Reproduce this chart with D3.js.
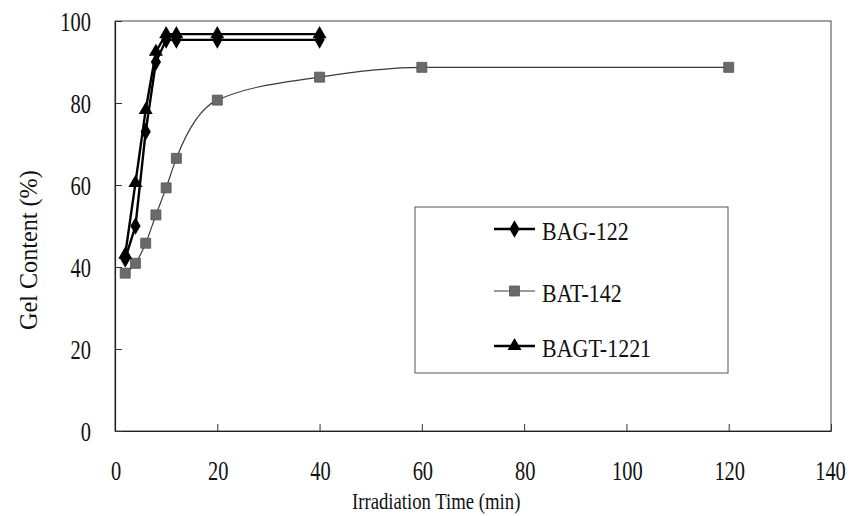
<!DOCTYPE html>
<html>
<head>
<meta charset="utf-8">
<script src="https://cdn.jsdelivr.net/npm/d3@7"></script>
<style>
  html, body { margin: 0; padding: 0; background: #fff; }
  svg { display: block; }
  text { font-family: "Liberation Serif", "DejaVu Serif", serif; fill: #111; }
</style>
</head>
<body>
<div id="chart"></div>
<script>
// values
const timeBAG = [2, 4, 6, 8, 10, 12, 20, 40];
const gelBAG122 = [42, 50, 73, 90, 95.4, 95.4, 95.4, 95.4];
const gelBAGT1221 = [43, 60.5, 78.3, 92.5, 96.8, 96.8, 96.8, 96.8];
const timeBAT = [2, 4, 6, 8, 10, 12, 20, 40, 60, 120];
const gelBAT142 = [38.5, 40.9, 45.8, 52.7, 59.3, 66.5, 80.7, 86.3, 88.7, 88.7];

const xTicks = [0, 20, 40, 60, 80, 100, 120, 140];
const yTicks = [0, 20, 40, 60, 80, 100];
const seriesNames = ['BAG-122', 'BAT-142', 'BAGT-1221'];

const W = 849, H = 516;
const plot = { left: 115, right: 831, top: 21, bottom: 431 };
const NARROW = 0.73; // the original face is a condensed serif

const svg = d3.select('#chart').append('svg')
    .attr('width', W).attr('height', H);

const x = d3.scaleLinear().domain([0, 140]).range([plot.left, plot.right]);
const y = d3.scaleLinear().domain([0, 100]).range([plot.bottom, plot.top]);

// frame
svg.append('rect')
    .attr('x', plot.left).attr('y', plot.top)
    .attr('width', plot.right - plot.left).attr('height', plot.bottom - plot.top)
    .attr('fill', 'none').attr('stroke', '#444').attr('stroke-width', 1);

// axes, ticks pointing inward; labels drawn below with a narrowed face
const xAxis = svg.append('g').attr('transform', `translate(0,${plot.bottom})`)
    .call(d3.axisBottom(x).tickValues(xTicks).tickSizeInner(-7).tickSizeOuter(0).tickFormat(''));
const yAxis = svg.append('g').attr('transform', `translate(${plot.left},0)`)
    .call(d3.axisLeft(y).tickValues(yTicks).tickSizeInner(-7).tickSizeOuter(0).tickFormat(''));
[xAxis, yAxis].forEach(a => {
    a.selectAll('.domain').attr('stroke', '#222').attr('stroke-width', 1.2);
    a.selectAll('.tick line').attr('stroke', '#333');
});

svg.append('g').selectAll('text').data(xTicks).join('text')
    .attr('transform', d => `translate(${x(d) + (d === 140 ? -0.5 : 1)},480) scale(${NARROW},1)`)
    .attr('text-anchor', 'middle')
    .attr('font-size', 28)
    .text(d => d);

svg.append('g').selectAll('text').data(yTicks).join('text')
    .attr('transform', d => `translate(91,${y(d) + 9.5}) scale(${NARROW},1)`)
    .attr('text-anchor', 'end')
    .attr('font-size', 28)
    .text(d => d);

// axis titles
svg.append('text')
    .attr('transform', 'translate(352,509) scale(0.78,1)')
    .attr('font-size', 24)
    .text('Irradiation Time (min)');

svg.append('text')
    .attr('transform', 'translate(37,330) rotate(-90) scale(0.93,1)')
    .attr('font-size', 26)
    .text('Gel Content (%)');

// series
const styles = {
    'BAG-122':   { t: timeBAG, v: gelBAG122, stroke: '#000', width: 2.4, symbol: d3.symbolDiamond, size: 90, fill: '#000', curve: d3.curveLinear },
    'BAT-142':   { t: timeBAT, v: gelBAT142, stroke: '#3a3a3a', width: 1.2, symbol: d3.symbolSquare, size: 100, fill: '#6a6a6a', curve: d3.curveMonotoneX },
    'BAGT-1221': { t: timeBAG, v: gelBAGT1221, stroke: '#000', width: 2.4, symbol: d3.symbolTriangle, size: 85, fill: '#000', curve: d3.curveLinear },
};

const line = d3.line().x(d => x(d[0])).y(d => y(d[1]));

seriesNames.forEach(name => {
    const s = styles[name];
    const pts = s.t.map((t, i) => [t, s.v[i]]);
    const g = svg.append('g');
    g.append('path')
        .attr('d', line.curve(s.curve)(pts))
        .attr('fill', 'none')
        .attr('stroke', s.stroke)
        .attr('stroke-width', s.width);
    g.selectAll('path.mk').data(pts).join('path')
        .attr('class', 'mk')
        .attr('transform', d => `translate(${x(d[0])},${y(d[1])})`)
        .attr('d', d3.symbol().type(s.symbol).size(s.size))
        .attr('fill', s.fill)
        .attr('stroke', name === 'BAT-142' ? '#555' : 'none')
        .attr('stroke-width', 0.8);
});

// legend
const legend = svg.append('g');
legend.append('rect')
    .attr('x', 415).attr('y', 207)
    .attr('width', 313).attr('height', 166)
    .attr('fill', '#fff').attr('stroke', '#555').attr('stroke-width', 1);

const legendRows = [229, 291, 346];
seriesNames.forEach((name, i) => {
    const s = styles[name];
    const cy = legendRows[i];
    legend.append('line')
        .attr('x1', 494).attr('x2', 535).attr('y1', cy).attr('y2', cy)
        .attr('stroke', s.stroke).attr('stroke-width', s.width);
    legend.append('path')
        .attr('transform', `translate(514.5,${cy})`)
        .attr('d', d3.symbol().type(s.symbol).size(s.size))
        .attr('fill', s.fill)
        .attr('stroke', name === 'BAT-142' ? '#555' : 'none')
        .attr('stroke-width', 0.8);
    legend.append('text')
        .attr('transform', `translate(542,${cy + 11}) scale(0.88,1)`)
        .attr('font-size', 25)
        .text(name);
});
</script>
</body>
</html>
